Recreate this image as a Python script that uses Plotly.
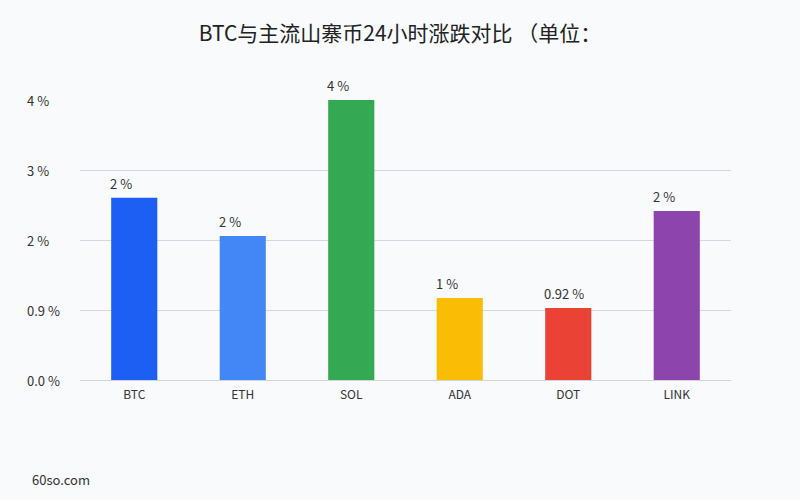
import plotly.graph_objects as go

coins = ["BTC", "ETH", "SOL", "ADA", "DOT", "LINK"]
changes = [2.33, 1.84, 3.58, 1.05, 0.92, 2.16]
bar_labels = ["2 %", "2 %", "4 %", "1 %", "0.92 %", "2 %"]
colors = ["#1c5ff2", "#4287f5", "#34a853", "#fbbc05", "#ea4335", "#8e44ad"]
tick_vals = [0, 0.895, 1.79, 2.685, 3.58]
tick_text = ["0.0 %", "0.9 %", "2 %", "3 %", "4 %"]

font_family = "Noto Sans CJK SC, Noto Sans, sans-serif"

fig = go.Figure(go.Bar(
    x=coins, y=changes, marker_color=colors, marker_line_width=0,
))

annotations = []
for c, v, t in zip(coins, changes, bar_labels):
    annotations.append(dict(x=c, y=v, text=t, xref="x", yref="y", showarrow=False,
                            xanchor="left", yanchor="bottom", xshift=-26, yshift=3,
                            font=dict(size=13, color="#333333", family=font_family)))
for v, t in zip(tick_vals, tick_text):
    annotations.append(dict(x=-0.0845, y=v, text=t, xref="paper", yref="y", showarrow=False,
                            xanchor="left", yanchor="middle",
                            font=dict(size=13, color="#333333", family=font_family)))
annotations.append(dict(text="60so.com", xref="paper", yref="paper", x=-0.077, y=-0.357,
                        xanchor="left", yanchor="middle", showarrow=False,
                        font=dict(size=13, color="#333333", family=font_family)))

fig.update_layout(
    width=800, height=500,
    paper_bgcolor="#f8fafc", plot_bgcolor="#f8fafc",
    margin=dict(l=80, r=69, t=100, b=120),
    bargap=0.575,
    showlegend=False,
    font=dict(family=font_family, color="#333333"),
    title=dict(text="BTC与主流山寨币24小时涨跌对比 （单位：", x=0.5, xanchor="center",
               y=0.933, yanchor="middle",
               font=dict(size=21, color="#222222", family=font_family)),
    annotations=annotations,
)
fig.update_xaxes(showgrid=False, showline=True, linecolor="#cfd4dc", linewidth=1,
                 tickfont=dict(size=12, color="#333333"), ticks="", ticklabelstandoff=4)
fig.update_yaxes(range=[0, 3.58], tickvals=tick_vals, showticklabels=False,
                 showgrid=True, gridcolor="#d3d8e0", gridwidth=1, zeroline=False)

fig.write_html("out.html")
